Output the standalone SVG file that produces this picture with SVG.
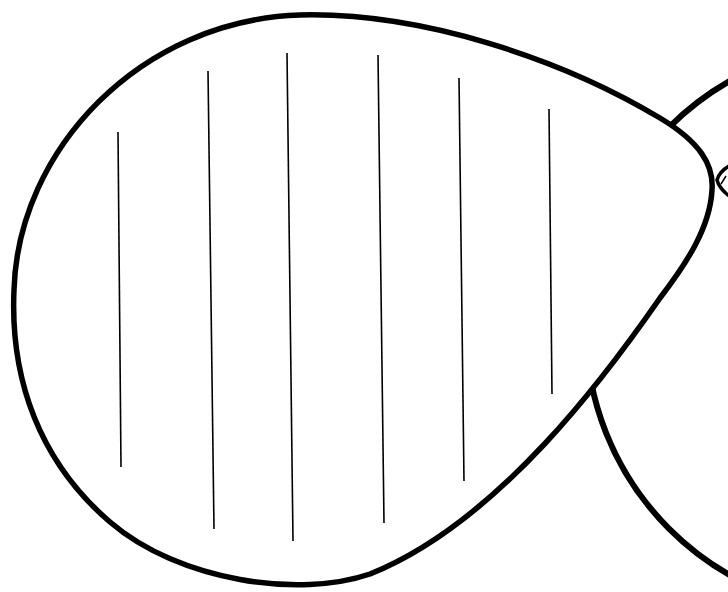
<svg xmlns="http://www.w3.org/2000/svg" width="728" height="592" viewBox="0 0 728 592">
<style>
.outline{fill:#fff;stroke:#000;stroke-width:5.5;stroke-linejoin:round;stroke-linecap:round}
.hatch{fill:none;stroke:#000;stroke-width:1.6;stroke-linecap:butt}
</style>
<rect width="728" height="592" fill="#fff"/>
<g id="circle">
<circle cx="870" cy="328" r="284" fill="#fff" stroke="#000" stroke-width="6"/>
</g>
<g id="teardrop">
<path class="outline" d="M 300 15 C 420 12 560 58 660 118 C 700 142 714 165 712 190 C 710 228 686 264 660 298 C 610 370 500 522 370 574 C 300 598 180 582 110 522 C 40 462 10 380 14 290 C 18 150 140 20 300 15 Z"/>
</g>
<g id="hatching">
<line class="hatch" x1="118" y1="132" x2="121" y2="467"/>
<line class="hatch" x1="208" y1="71" x2="214" y2="529"/>
<line class="hatch" x1="287" y1="53" x2="293" y2="541"/>
<line class="hatch" x1="378" y1="55" x2="384" y2="523"/>
<line class="hatch" x1="459" y1="78" x2="464" y2="481"/>
<line class="hatch" x1="549" y1="109" x2="552" y2="394"/>
</g>
<g id="tip">
<path d="M 729 166 Q 719 172 717 180 Q 719 188 729 196" fill="#fff" stroke="#000" stroke-width="3.5"/>
<line x1="721" y1="184" x2="726" y2="176" stroke="#000" stroke-width="1.5"/>
</g>
</svg>
